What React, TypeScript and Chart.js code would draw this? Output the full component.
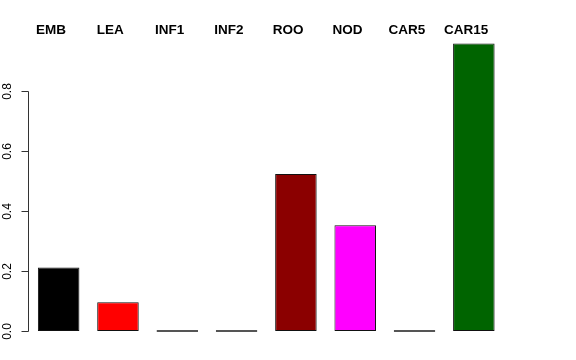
import React, { useEffect, useRef } from "react";
import { Chart, registerables } from "chart.js";

Chart.register(...registerables);

const categories = ["EMB", "LEA", "INF1", "INF2", "ROO", "NOD", "CAR5", "CAR15"];
const values = [0.212, 0.096, 0, 0, 0.524, 0.353, 0, 0.96];
const barColors = ["#000000", "#FF0000", "#00CD00", "#0000FF", "#8B0000", "#FF00FF", "#BEBEBE", "#006400"];
const borderColors = ["#111", "#111", "#555", "#555", "#111", "#111", "#555", "#111"];
const yTicks = [0, 0.2, 0.4, 0.6, 0.8];

const axisPlugin = {
  id: "rAxis",
  afterDraw(chart: any) {
    const ctx = chart.ctx;
    const y = chart.scales.y;
    const x = chart.scales.x;
    const area = chart.chartArea;
    ctx.save();
    const axX = Math.round(area.left) - 0.5;
    const yTop = Math.round(y.getPixelForValue(yTicks[yTicks.length - 1])) + 0.5;
    const yBot = Math.round(y.getPixelForValue(yTicks[0])) + 0.5;
    ctx.strokeStyle = "#333";
    ctx.lineWidth = 1;
    ctx.beginPath();
    ctx.moveTo(axX, yTop);
    ctx.lineTo(axX, yBot);
    ctx.stroke();
    ctx.fillStyle = "#000";
    ctx.font = "12px 'Liberation Sans', Arial, sans-serif";
    ctx.textAlign = "center";
    ctx.textBaseline = "middle";
    yTicks.forEach((t) => {
      const py = Math.round(y.getPixelForValue(t)) + 0.5;
      ctx.beginPath();
      ctx.moveTo(axX - 7, py);
      ctx.lineTo(axX, py);
      ctx.stroke();
      ctx.save();
      ctx.translate(7.5, py);
      ctx.rotate(-Math.PI / 2);
      ctx.fillText(t.toFixed(1), 0, 0);
      ctx.restore();
    });
    ctx.font = "bold 13.5px 'Liberation Sans', Arial, sans-serif";
    ctx.textBaseline = "alphabetic";
    categories.forEach((c, i) => {
      const px = x.getPixelForValue(i) - 7.7;
      ctx.fillText(c, px, 34);
    });
    ctx.restore();
  },
};

export default function App() {
  const ref = useRef<HTMLCanvasElement>(null);
  useEffect(() => {
    if (!ref.current) return;
    const chart = new Chart(ref.current, {
      type: "bar",
      data: {
        labels: categories,
        datasets: [
          {
            data: values,
            backgroundColor: barColors,
            borderColor: borderColors,
            borderWidth: 1,
            borderSkipped: false,
            minBarLength: 2,
            barPercentage: 0.7,
            categoryPercentage: 1,
          },
        ],
      },
      options: {
        animation: false,
        responsive: false,
        maintainAspectRatio: false,
        layout: { padding: { left: 29, right: 72.5, top: 32, bottom: 17.5 } },
        plugins: { legend: { display: false }, tooltip: { enabled: false } },
        scales: {
          x: { display: false },
          y: { display: false, min: -0.0384, max: 0.9984 },
        },
      },
      plugins: [axisPlugin],
    });
    return () => chart.destroy();
  }, []);
  return (
    <div style={{ position: "absolute", left: 0, top: 0, width: 576, height: 360, background: "#fff" }}>
      <canvas ref={ref} width={576} height={360} />
    </div>
  );
}
